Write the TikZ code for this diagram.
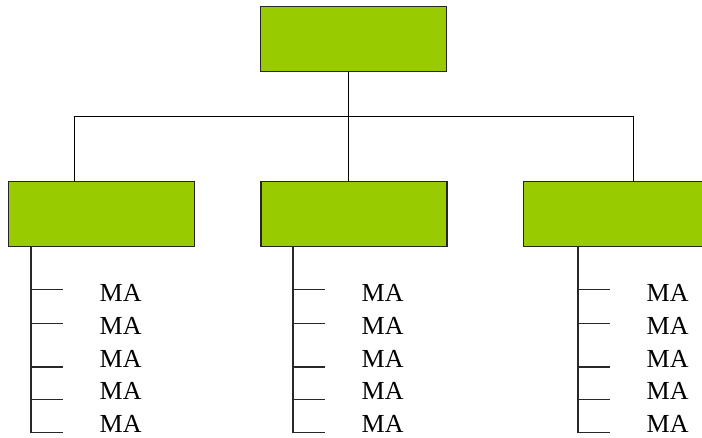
\documentclass[tikz,border=0pt]{standalone}
\usepackage{fontspec}
\setmainfont{Liberation Serif}
\definecolor{boxgreen}{RGB}{153,204,0}
\definecolor{linegray}{RGB}{40,40,40}
\tikzset{
  unitbox/.style={draw=black!85, line width=1.1pt, fill=boxgreen, minimum width=186pt,
    minimum height=65pt, inner sep=0pt, outer sep=0pt, anchor=north west},
  link/.style={draw=black, line width=1pt},
  listline/.style={draw=linegray, line width=1.1pt},
  item/.style={font=\fontsize{26}{30}\selectfont, inner sep=0pt, anchor=base west},
}
\begin{document}
\begin{tikzpicture}[x=1pt, y=-1pt]
  \useasboundingbox (0,0) rectangle (702,437);
  \clip (0,0) rectangle (702,437);

  % boxes
  \node[unitbox] (top) at (260.5,6.5) {};
  \node[unitbox] (b1) at (8.5,181.5) {};
  \node[unitbox] (b2) at (261,181.5) {};
  \node[unitbox] (b3) at (523.5,181.5) {};

  % tree connectors
  \coordinate (t) at (348,116);
  \coordinate (c1) at (74,116);
  \coordinate (c3) at (633,116);
  \draw[link] (t |- top.south) -- (t |- b2.north);
  \draw[link] (c1 |- b1.north) -- (c1) -- (c3) -- (c3 |- b3.north);

  % item lists below each box
  \foreach \n/\lx in {b1/31, b2/293, b3/578} {
    \coordinate (\n-bot) at (\lx,432.5);
    \draw[listline] (\n-bot |- \n.south) -- (\n-bot) -- ++(32,0);
    \foreach \ty in {289.5, 323.5, 367, 399.5} {
      \draw[listline] (\lx,\ty) -- ++(32,0);
    }
    \foreach \k in {0,...,4} {
      \node[item] (\n-ma\k) at (\lx+68.5, 301.7+\k*32.65) {MA};
    }
  }
\end{tikzpicture}
\end{document}
